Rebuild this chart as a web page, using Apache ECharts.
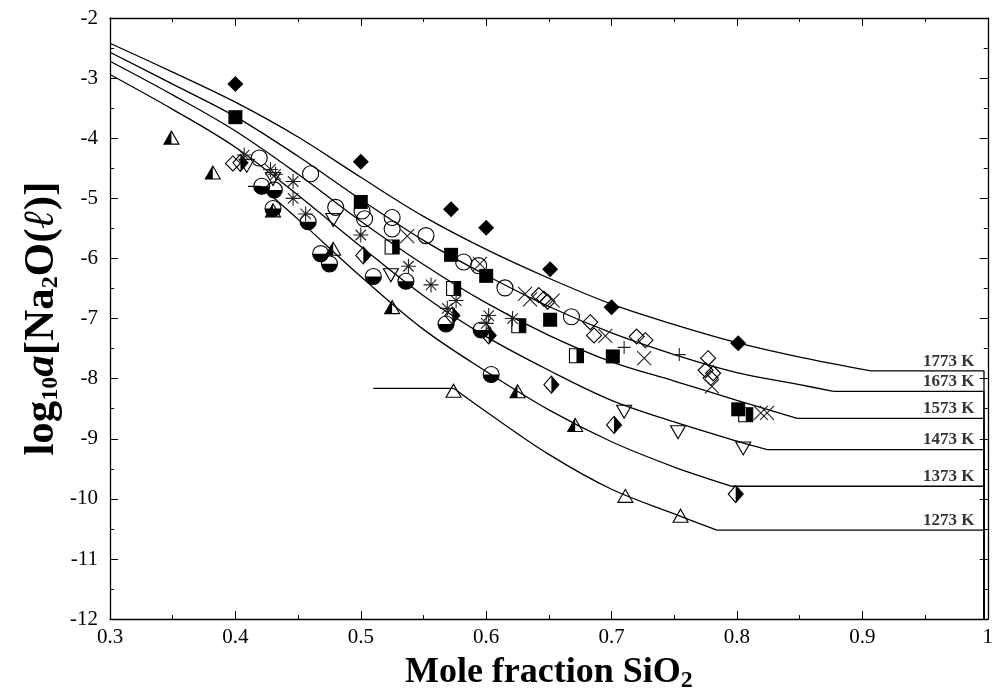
<!DOCTYPE html>
<html>
<head>
<meta charset="utf-8">
<script src="https://cdn.jsdelivr.net/npm/echarts@6/dist/echarts.min.js"></script>
<style>
  html, body { margin: 0; padding: 0; background: #fff; }
  #chart { width: 996px; height: 698px; }
</style>
</head>
<body>
<div id="chart"></div>
<script>
// Model isotherms: log10 a(Na2O) against mole fraction SiO2 (falling branch, ends where the plateau starts)
const curve1773 = [[0.3,-2.42],[0.35,-2.9],[0.4,-3.4],[0.45,-3.98],[0.5,-4.65],[0.55,-5.3],[0.6,-5.85],[0.65,-6.33],[0.7,-6.76],[0.75,-7.1],[0.8,-7.4],[0.85,-7.64],[0.907,-7.87]];
const curve1673 = [[0.3,-2.57],[0.35,-3.1],[0.4,-3.64],[0.45,-4.3],[0.5,-5.02],[0.55,-5.7],[0.6,-6.28],[0.65,-6.8],[0.7,-7.24],[0.75,-7.6],[0.8,-7.9],[0.85,-8.1],[0.877,-8.21]];
const curve1573 = [[0.3,-2.72],[0.35,-3.28],[0.4,-3.88],[0.45,-4.6],[0.5,-5.38],[0.55,-6.1],[0.6,-6.74],[0.65,-7.28],[0.7,-7.72],[0.75,-8.04],[0.8,-8.36],[0.848,-8.66]];
const curve1473 = [[0.3,-2.94],[0.35,-3.52],[0.4,-4.15],[0.45,-4.95],[0.5,-5.8],[0.55,-6.62],[0.6,-7.3],[0.65,-7.86],[0.7,-8.36],[0.75,-8.72],[0.8,-9.04],[0.824,-9.18]];
const curve1373 = [[0.42,-4.8],[0.45,-5.35],[0.5,-6.3],[0.55,-7.18],[0.6,-7.88],[0.65,-8.52],[0.7,-9.05],[0.75,-9.47],[0.796,-9.79]];
const curve1273 = [[0.574,-8.16],[0.6,-8.55],[0.65,-9.26],[0.7,-9.84],[0.75,-10.25],[0.784,-10.52]];
// Flat lead-in segments where the two coolest isotherms begin
const lead1373 = [[0.41,-4.8],[0.42,-4.8]];
const lead1273 = [[0.51,-8.16],[0.574,-8.16]];
// Composition where every isotherm drops vertically
const dropX = 0.997;

const isotherms = [curve1773, curve1673, curve1573, curve1473, curve1373, curve1273];
const isothermNames = ['1773 K', '1673 K', '1573 K', '1473 K', '1373 K', '1273 K'];
const leads = [lead1373, lead1273];

// Measured activities, grouped by marker
const filledDiamond = [[0.4,-3.1],[0.5,-4.39],[0.572,-5.18],[0.6,-5.49],[0.651,-6.18],[0.7,-6.81],[0.801,-7.41]];
const filledSquare = [[0.4,-3.65],[0.5,-5.06],[0.572,-5.94],[0.6,-6.29],[0.651,-7.02],[0.701,-7.63],[0.801,-8.51]];
const openCircle = [[0.419,-4.33],[0.46,-4.59],[0.48,-5.15],[0.501,-5.21],[0.503,-5.34],[0.525,-5.32],[0.525,-5.51],[0.552,-5.62],[0.582,-6.06],[0.594,-6.12],[0.615,-6.49],[0.668,-6.97]];
const asterisk = [[0.407,-4.28],[0.428,-4.52],[0.432,-4.6],[0.446,-4.72],[0.446,-5.0],[0.456,-5.26],[0.5,-5.61],[0.538,-6.13],[0.556,-6.44],[0.576,-6.7],[0.569,-6.83],[0.602,-6.95],[0.6,-7.08],[0.621,-7.0]];
const crossX = [[0.537,-5.63],[0.595,-6.09],[0.631,-6.59],[0.635,-6.68],[0.653,-6.7],[0.695,-7.29],[0.726,-7.66],[0.78,-8.13],[0.819,-8.57],[0.824,-8.57]];
const openDiamond = [[0.398,-4.42],[0.642,-6.61],[0.646,-6.67],[0.649,-6.72],[0.683,-7.06],[0.686,-7.28],[0.72,-7.3],[0.727,-7.36],[0.777,-7.66],[0.775,-7.86],[0.781,-7.91],[0.779,-7.99]];
const plusMark = [[0.71,-7.48],[0.754,-7.6]];
const halfSquare = [[0.525,-5.81],[0.574,-6.5],[0.626,-7.12],[0.672,-7.62],[0.807,-8.6]];
const halfCircle = [[0.421,-4.8],[0.431,-4.86],[0.43,-5.17],[0.458,-5.39],[0.468,-5.92],[0.475,-6.09],[0.51,-6.3],[0.536,-6.38],[0.568,-7.09],[0.596,-7.19],[0.604,-7.93]];
const halfTriangle = [[0.349,-3.99],[0.382,-4.57],[0.43,-5.2],[0.478,-5.84],[0.525,-6.81],[0.625,-8.21],[0.671,-8.77]];
const halfDiamond = [[0.404,-4.41],[0.502,-5.95],[0.573,-6.95],[0.602,-7.28],[0.652,-8.1],[0.702,-8.77],[0.799,-9.92]];
const invTriangle = [[0.409,-4.46],[0.43,-4.68],[0.478,-5.36],[0.524,-6.28],[0.71,-8.55],[0.753,-8.89],[0.805,-9.16]];
const openTriangle = [[0.574,-8.2],[0.711,-9.95],[0.755,-10.28]];

// Axis ticks
const xTicks = { min: 0.3, max: 1.0, step: 0.1 };
const yTicks = { min: -12, max: -2, step: 1 };

const SERIF = '"Liberation Serif", "Times New Roman", "DejaVu Serif", serif';
const INK = '#000';
const CURVE = { color: INK, width: 1.3 };

function smoothSeries(data) {
  return { type: 'line', data: data, symbol: 'none', showSymbol: false, smooth: 0.35, silent: true, z: 2, lineStyle: CURVE };
}
function straightSeries(data) {
  return { type: 'line', data: data, symbol: 'none', showSymbol: false, smooth: false, silent: true, z: 2, lineStyle: CURVE };
}
function plateauSeries(curve) {
  const last = curve[curve.length - 1];
  return straightSeries([last, [dropX, last[1]], [dropX, yTicks.min]]);
}
function scatterSeries(data, symbol, size, opts) {
  return Object.assign({
    type: 'scatter', data: data, symbol: symbol, symbolSize: size, silent: true, z: 4,
    itemStyle: { color: 'rgba(0,0,0,0)', borderColor: INK, borderWidth: 1.1, opacity: 1 }
  }, opts || {});
}
function halfShape(kind, w, h) {
  return function (params, api) {
    const c = api.coord([api.value(0), api.value(1)]);
    const x = c[0], y = c[1], hw = w / 2, hh = h / 2;
    const line = { fill: 'none', stroke: INK, lineWidth: 1.1 };
    const solid = { fill: INK };
    let outline, half;
    if (kind === 'square') {
      outline = { type: 'rect', shape: { x: x - hw, y: y - hh, width: w, height: h }, style: line };
      half = { type: 'rect', shape: { x: x, y: y - hh, width: hw, height: h }, style: solid };
    } else if (kind === 'circle') {
      outline = { type: 'circle', shape: { cx: x, cy: y, r: hw }, style: line };
      half = { type: 'sector', shape: { cx: x, cy: y, r0: 0, r: hw, startAngle: 0, endAngle: Math.PI, clockwise: true }, style: solid };
    } else if (kind === 'triangle') {
      outline = { type: 'polygon', shape: { points: [[x, y - hh], [x + hw, y + hh], [x - hw, y + hh]] }, style: line };
      half = { type: 'polygon', shape: { points: [[x, y - hh], [x, y + hh], [x - hw, y + hh]] }, style: solid };
    } else {
      outline = { type: 'polygon', shape: { points: [[x, y - hh], [x + hw, y], [x, y + hh], [x - hw, y]] }, style: line };
      half = { type: 'polygon', shape: { points: [[x, y - hh], [x + hw, y], [x, y + hh]] }, style: solid };
    }
    return { type: 'group', children: [half, outline] };
  };
}
function halfSeries(data, kind, w, h) {
  return {
    type: 'custom', coordinateSystem: 'cartesian2d', data: data, silent: true, z: 4,
    encode: { x: 0, y: 1 }, renderItem: halfShape(kind, w, h)
  };
}

// Isotherm names sit just above each plateau, right-aligned near the right frame
const labelX = 0.9895;
const labelSeries = {
  type: 'scatter', symbolSize: 0, silent: true, z: 5,
  data: isotherms.map(function (c, i) { return { value: [labelX, c[c.length - 1][1]], name: isothermNames[i] }; }),
  label: {
    show: true, position: 'top', align: 'right', distance: 1,
    formatter: function (p) { return p.name; },
    fontFamily: SERIF, fontWeight: 'bold', fontSize: 17, color: INK
  }
};

function fmtX(v) {
  const r = Math.round(v * 10) / 10;
  return r === 1 ? '1' : r.toFixed(1);
}

const axisLineStyle = { lineStyle: { color: INK, width: 1.3 } };
const tickStyle = { inside: true, length: 8, lineStyle: { color: INK, width: 1 } };
const minorStyle = { show: true, splitNumber: 2, length: 4, lineStyle: { color: INK, width: 1 } };
const subStyle = { fontFamily: SERIF, fontWeight: 'bold', fontSize: 24, lineHeight: 18, verticalAlign: 'bottom', color: INK };

const option = {
  animation: false,
  backgroundColor: '#fff',
  grid: { left: 110, right: 6, top: 18, bottom: 76, containLabel: false },
  xAxis: [{
    type: 'value', min: xTicks.min, max: xTicks.max, interval: xTicks.step, position: 'bottom',
    axisLine: axisLineStyle, axisTick: tickStyle, minorTick: minorStyle, splitLine: { show: false },
    axisLabel: { formatter: fmtX, fontFamily: SERIF, fontSize: 21, color: INK, margin: 8 },
    name: 'Mole fraction SiO{sub|2}', nameLocation: 'middle', nameGap: 30,
    nameTextStyle: {
      fontFamily: SERIF, fontWeight: 'bold', fontSize: 36, color: INK, lineHeight: 40,
      rich: { sub: subStyle }
    }
  }, {
    type: 'value', min: xTicks.min, max: xTicks.max, interval: xTicks.step, position: 'top',
    axisLine: axisLineStyle, axisTick: tickStyle, minorTick: minorStyle, splitLine: { show: false },
    axisLabel: { show: false }
  }],
  yAxis: [{
    type: 'value', min: yTicks.min, max: yTicks.max, interval: yTicks.step, position: 'left',
    axisLine: axisLineStyle, axisTick: tickStyle, minorTick: minorStyle, splitLine: { show: false },
    axisLabel: { fontFamily: SERIF, fontSize: 21, color: INK, margin: 12 },
    name: 'log{sub|10}{it|a}[Na{sub|2}O({it|ℓ})]', nameLocation: 'middle', nameGap: 47, nameRotate: 90,
    nameMoveOverlap: false,
    nameTextStyle: {
      fontFamily: SERIF, fontWeight: 'bold', fontSize: 43, color: INK, lineHeight: 42,
      rich: {
        sub: subStyle,
        it: { fontFamily: SERIF, fontWeight: 'bold', fontStyle: 'italic', fontSize: 43, lineHeight: 42, color: INK }
      }
    }
  }, {
    type: 'value', min: yTicks.min, max: yTicks.max, interval: yTicks.step, position: 'right',
    axisLine: axisLineStyle, axisTick: tickStyle, minorTick: minorStyle, splitLine: { show: false },
    axisLabel: { show: false }
  }],
  series: [].concat(
    isotherms.map(smoothSeries),
    isotherms.map(plateauSeries),
    leads.map(straightSeries),
    [
      scatterSeries(filledDiamond, 'diamond', 16, { itemStyle: { color: INK, opacity: 1 } }),
      scatterSeries(filledSquare, 'rect', 14, { itemStyle: { color: INK, opacity: 1 } }),
      scatterSeries(openCircle, 'circle', 16),
      scatterSeries(openDiamond, 'diamond', 15),
      scatterSeries(openTriangle, 'triangle', [15, 13]),
      scatterSeries(invTriangle, 'triangle', [15, 13], { symbolRotate: 180 }),
      scatterSeries(asterisk, 'path://M5,0L5,10M0,5L10,5M1.5,1.5L8.5,8.5M8.5,1.5L1.5,8.5', 15, { itemStyle: { color: 'rgba(0,0,0,0)', borderColor: '#222', borderWidth: 1.1, opacity: 1 } }),
      scatterSeries(crossX, 'path://M0,0L10,10M10,0L0,10', 14, { itemStyle: { color: 'rgba(0,0,0,0)', borderColor: '#222', borderWidth: 1.1, opacity: 1 } }),
      scatterSeries(plusMark, 'path://M5,0L5,10M0,5L10,5', 13, { itemStyle: { color: 'rgba(0,0,0,0)', borderColor: '#222', borderWidth: 1.1, opacity: 1 } }),
      halfSeries(halfSquare, 'square', 14, 14),
      halfSeries(halfCircle, 'circle', 16, 16),
      halfSeries(halfTriangle, 'triangle', 15, 13),
      halfSeries(halfDiamond, 'diamond', 15, 17),
      labelSeries
    ]
  )
};

const chart = echarts.init(document.getElementById('chart'), null, { renderer: 'canvas' });
chart.setOption(option);
</script>
</body>
</html>
